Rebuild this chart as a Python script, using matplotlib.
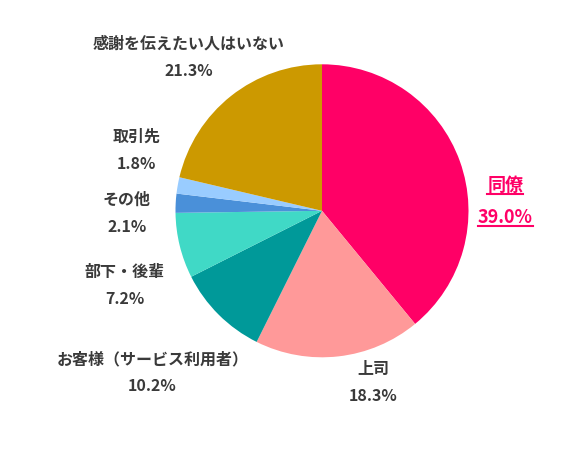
import matplotlib
matplotlib.use("Agg")
import matplotlib.pyplot as plt
from matplotlib.lines import Line2D

categories = ["同僚", "上司", "お客様（サービス利用者）", "部下・後輩", "その他", "取引先", "感謝を伝えたい人はいない"]
values = [39.0, 18.3, 10.2, 7.2, 2.1, 1.8, 21.3]
colors = ["#FF0066", "#FF9999", "#009999", "#40D9C6", "#4A90D9", "#99CCFF", "#CC9900"]

# label anchor positions (name line, pct line) in pie-radius units
label_x = [1.252, 0.348, -1.157, -1.345, -1.333, -1.264, -0.912]
label_name_y = [0.176, -1.080, -1.017, -0.415, 0.073, 0.506, 1.143]
label_pct_y = [-0.049, -1.264, -1.198, -0.602, -0.111, 0.321, 0.956]
label_size = [13, 11.5, 11.5, 11.5, 11.5, 11.5, 11.5]

plt.rcParams['font.family'] = ['Noto Sans CJK JP', 'DejaVu Sans']

W, H = 582, 450
fig = plt.figure(figsize=(W / 100, H / 100), dpi=100)
ax = fig.add_axes([0, 0, 1, 1])
cx, cy, R = 322, 210.8, 146.5

ax.pie(values, colors=colors, startangle=90, counterclock=False, radius=1,
       wedgeprops=dict(linewidth=0))
ax.set_xlim(-cx / R, (W - cx) / R)
ax.set_ylim(-(H - cy) / R, cy / R)
ax.set_aspect('auto')
ax.axis('off')

texts = []
for i, (cat, v) in enumerate(zip(categories, values)):
    col = "#FF0066" if i == 0 else "#3A3A3A"
    t1 = ax.text(label_x[i], label_name_y[i], cat, ha='center', va='center',
                 fontsize=label_size[i], fontweight='bold', color=col)
    t2 = ax.text(label_x[i], label_pct_y[i], f"{v:.1f}%", ha='center', va='center',
                 fontsize=label_size[i], fontweight='bold', color=col)
    if i == 0:
        texts.extend([t1, t2])

fig.canvas.draw()
renderer = fig.canvas.get_renderer()
inv = ax.transData.inverted()
for t in texts:
    bb = t.get_window_extent(renderer)
    (x0, y0) = inv.transform((bb.x0, bb.y0 + 1))
    (x1, _) = inv.transform((bb.x1, bb.y0 + 1))
    ax.add_line(Line2D([x0, x1], [y0, y0], color="#FF0066", linewidth=1.5))

fig.savefig("out.png", dpi=100)
